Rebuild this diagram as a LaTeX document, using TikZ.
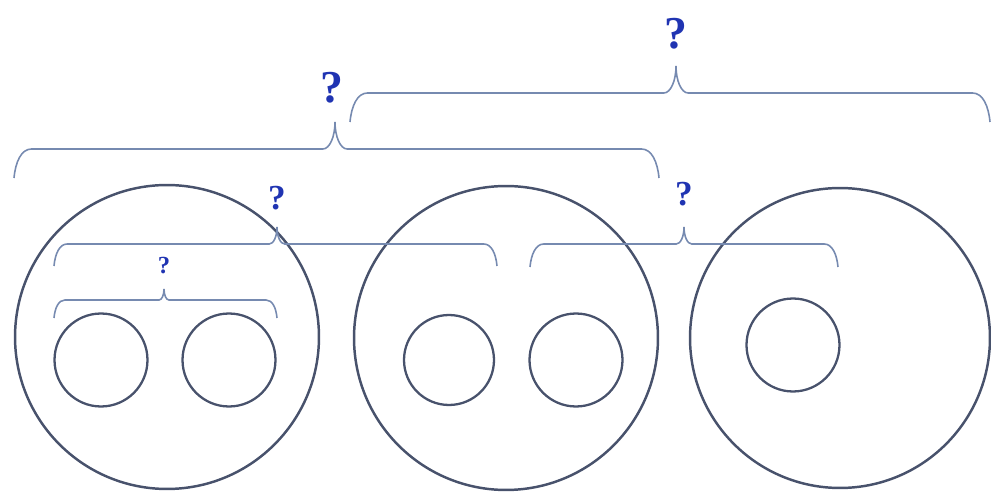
\documentclass[tikz,border=0pt]{standalone}
\usepackage{fontspec}
\setmainfont{Liberation Serif}
\usepackage{tikz}
\usetikzlibrary{positioning}
\definecolor{cercleGris}{RGB}{72, 82, 108}
\definecolor{accolBleu}{RGB}{118, 138, 176}
\definecolor{questBleu}{RGB}{32, 52, 178}
% accolade : x gauche, x droite, x pointe, y bouts, y ligne, y pointe
\newcommand{\accolade}[6]{%
  \pgfmathsetmacro{\hb}{#4-#5}% hauteur des bouts
  \pgfmathsetmacro{\hp}{#5-#6}% hauteur de la pointe
  \draw[accol] (#1,#4)
    .. controls (#1+0.05*\hb,#4-0.55*\hb) and (#1+0.25*\hb,#5) .. (#1+0.6*\hb,#5)
    -- (#3-0.45*\hp,#5)
    .. controls (#3-0.2*\hp,#5) and (#3,#5-0.45*\hp) .. (#3,#6)
    .. controls (#3,#5-0.45*\hp) and (#3+0.2*\hp,#5) .. (#3+0.45*\hp,#5)
    -- (#2-0.6*\hb,#5)
    .. controls (#2-0.25*\hb,#5) and (#2-0.05*\hb,#4-0.55*\hb) .. (#2,#4);}

\begin{document}
\begin{tikzpicture}[x=0.02cm, y=-0.02cm,
  grand/.style={circle, draw=cercleGris, line width=1.4pt,
    minimum size=6.08cm, inner sep=0pt},
  petit/.style={circle, draw=cercleGris, line width=1.3pt,
    minimum size=1.86cm, inner sep=0pt},
  accol/.style={draw=accolBleu, line width=0.9pt},
  quest/.style={font=\fontsize{#1}{#1}\selectfont\bfseries,
    text=questBleu, inner sep=0pt},
]
\useasboundingbox (0,0) rectangle (991,496);
% grands cercles
\node[grand] (g1) at (167, 337) {};
\node[grand] (g2) at (506, 338) {};
\node[grand, minimum size=6.0cm] (g3) at (840, 338) {};
% petits cercles
\node[petit] (p1) at (101, 360) {};
\node[petit] (p2) at (229, 360) {};
\node[petit, minimum size=1.8cm] (p3) at (449, 360) {};
\node[petit] (p4) at (576, 360) {};
\node[petit] (p5) at (793, 345) {};
% accolades
\accolade{54}{277}{164}{318}{300}{289}
\accolade{54}{497}{277}{266}{244}{227}
\accolade{530}{838}{684}{267}{244}{227}
\accolade{14}{659}{335}{178}{149}{122}
\accolade{350}{990}{676}{122}{93}{66}
% points d'interrogation
\node[quest=14pt] (q1) at (164, 266) {?};
\node[quest=20pt] (q2) at (277, 198) {?};
\node[quest=20pt] (q3) at (684, 194) {?};
\node[quest=26pt] (q4) at (332, 88) {?};
\node[quest=26pt] (q5) at (676, 34) {?};
\end{tikzpicture}
\end{document}
